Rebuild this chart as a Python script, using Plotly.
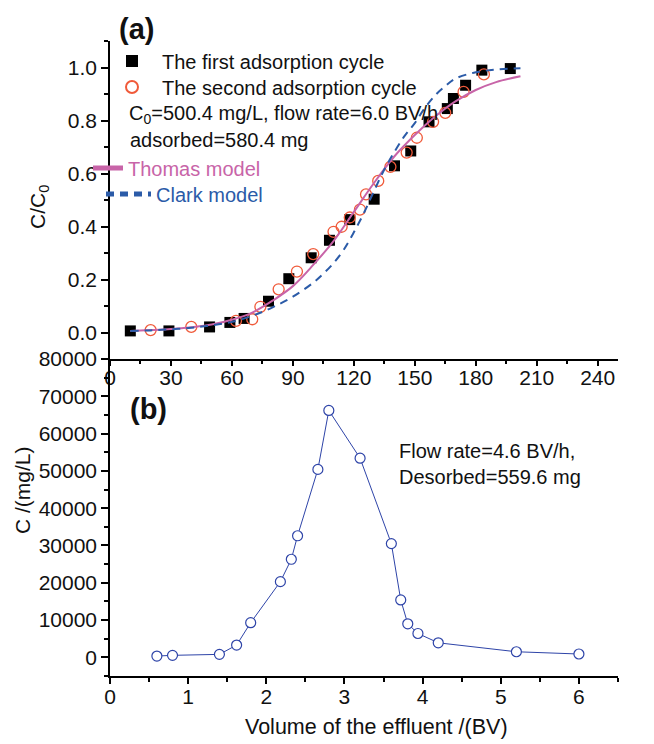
import plotly.graph_objects as go

# ---------------- data ----------------
cycle1_bv = [10, 29, 49, 59, 66, 78, 88, 99, 108, 118, 130, 140, 148, 157, 166, 169, 175, 183, 197]
cycle1_ratio = [0.006, 0.006, 0.021, 0.038, 0.053, 0.118, 0.203, 0.282, 0.348, 0.426, 0.503,
                0.629, 0.685, 0.795, 0.845, 0.883, 0.933, 0.990, 0.996]

cycle2_bv = [20, 40, 62, 70, 74, 83, 92, 100, 110, 114, 118, 123, 126, 132, 138, 146, 151, 159, 165, 174, 184]
cycle2_ratio = [0.009, 0.021, 0.044, 0.050, 0.097, 0.163, 0.230, 0.296, 0.380, 0.399, 0.434,
                0.464, 0.521, 0.572, 0.625, 0.679, 0.735, 0.795, 0.829, 0.908, 0.974]

thomas_bv = [10, 20, 30, 40, 50, 60, 70, 80, 90, 100, 110, 120, 130, 140, 150, 160, 170, 180, 190, 202]
thomas_ratio = [0.006, 0.009, 0.013, 0.020, 0.030, 0.048, 0.075, 0.120, 0.175, 0.255, 0.345,
                0.455, 0.565, 0.665, 0.745, 0.815, 0.872, 0.915, 0.945, 0.967]

clark_bv = [10, 20, 30, 40, 50, 60, 70, 80, 90, 100, 105, 110, 115, 120, 125, 130, 135, 140,
            145, 150, 155, 160, 165, 170, 180, 190, 202]
clark_ratio = [0.006, 0.008, 0.012, 0.018, 0.027, 0.040, 0.063, 0.095, 0.135, 0.188, 0.222,
               0.262, 0.312, 0.378, 0.452, 0.535, 0.615, 0.682, 0.742, 0.790, 0.848, 0.895,
               0.930, 0.958, 0.982, 0.992, 0.997]

desorb_bv = [0.6, 0.8, 1.4, 1.62, 1.8, 2.18, 2.32, 2.4, 2.66, 2.8, 3.2, 3.6, 3.72, 3.81, 3.94, 4.2, 5.2, 6.0]
desorb_conc = [350, 540, 800, 3300, 9300, 20300, 26300, 32600, 50400, 66200, 53400, 30500,
               15400, 9000, 6400, 3900, 1500, 900]

top_xticks = [0, 30, 60, 90, 120, 150, 180, 210, 240]
top_yticks = [0.0, 0.2, 0.4, 0.6, 0.8, 1.0]
bot_xticks = [0, 1, 2, 3, 4, 5, 6]
bot_yticks = [0, 10000, 20000, 30000, 40000, 50000, 60000, 70000, 80000]

# ---------------- styling ----------------
FONT = "Liberation Sans, Arial, sans-serif"
OFF = 8                      # page body margin in the browser
W, H = 654 - OFF, 744 - OFF  # figure size so the page fits the window
ML, MR, MT, MB = 110 - OFF, 36, 41 - OFF, 68
PW, PH = W - ML - MR, H - MT - MB
SPLIT = (744 - MB - 359) / PH  # shared boundary between panels (screen y = 359)


def px(x):  # screen pixel -> paper
    return (x - 110) / PW


def py(y):
    return (744 - MB - y) / PH


BLACK = "#000000"
RED = "#F05A3A"
PINK = "#C864A8"
BLUE = "#2B5BA8"
NAVY = "#2E44A8"
TXT = "#111111"

fig = go.Figure()

fig.add_trace(go.Scatter(
    x=cycle1_bv, y=cycle1_ratio, mode="markers", name="The first adsorption cycle",
    marker=dict(symbol="square", size=11, color=BLACK), xaxis="x", yaxis="y", legend="legend"))
fig.add_trace(go.Scatter(
    x=cycle2_bv, y=cycle2_ratio, mode="markers", name="The second adsorption cycle",
    marker=dict(symbol="circle-open", size=11, color=RED, line=dict(width=1.3, color=RED)),
    xaxis="x", yaxis="y", legend="legend4"))
fig.add_trace(go.Scatter(
    x=thomas_bv, y=thomas_ratio, mode="lines", name="Thomas model",
    line=dict(color=PINK, width=2, shape="spline"), xaxis="x", yaxis="y", legend="legend2"))
fig.add_trace(go.Scatter(
    x=clark_bv, y=clark_ratio, mode="lines", name="Clark model",
    line=dict(color=BLUE, width=2, dash="8px,6px", shape="spline"), xaxis="x", yaxis="y",
    legend="legend3"))
fig.add_trace(go.Scatter(
    x=desorb_bv, y=desorb_conc, mode="lines+markers", showlegend=False,
    line=dict(color=NAVY, width=1),
    marker=dict(symbol="circle", size=10, color="white", line=dict(width=1.2, color=NAVY)),
    xaxis="x2", yaxis="y2"))

axis_common = dict(
    showgrid=False, zeroline=False, showline=True, linecolor=BLACK, linewidth=1.5,
    ticks="outside", ticklen=7, tickwidth=1.5, tickcolor=BLACK,
    tickfont=dict(family=FONT, size=21, color=TXT),
)


def minor(d, ln=4):
    return dict(dtick=d, tick0=0, ticks="outside", ticklen=ln, tickwidth=1.5, tickcolor=BLACK)


def leg(x, y, color, iw=30):
    return dict(x=px(x), y=py(y), xanchor="left", yanchor="middle", bgcolor="rgba(0,0,0,0)",
                font=dict(family=FONT, size=20, color=color), itemwidth=iw, itemsizing="constant")


fig.update_layout(
    width=W, height=H,
    margin=dict(l=ML, r=MR, t=MT, b=MB, autoexpand=False),
    paper_bgcolor="white", plot_bgcolor="white",
    font=dict(family=FONT, size=20, color=TXT),
    xaxis=dict(axis_common, domain=[0, 1], range=[0, 250], anchor="y",
               tickvals=top_xticks, ticklen=5, ticklabelstandoff=-6, minor=minor(15, 3)),
    yaxis=dict(axis_common, domain=[SPLIT, 1], range=[-0.1, 1.1], anchor="x",
               tickvals=top_yticks, tickformat=".1f", minor=minor(0.1)),
    xaxis2=dict(axis_common, domain=[0, 1], range=[0, 6.5], anchor="y2",
                tickvals=bot_xticks, ticklen=6, ticklabelstandoff=-5, minor=minor(0.5)),
    yaxis2=dict(axis_common, domain=[0, SPLIT], range=[-5000, 80000], anchor="x2",
                tickvals=bot_yticks, tickformat="d", minor=minor(5000)),
    legend=leg(102, 61, TXT, 50),
    legend4=leg(102, 87, TXT, 50),
    legend2=leg(88, 168, PINK, 30),
    legend3=leg(101, 194, BLUE, 45),
)

annotations = [
    dict(text="<b>(a)</b>", x=px(117), y=py(29), xanchor="left", yanchor="middle", font=dict(size=29)),
    dict(text="<b>(b)</b>", x=px(128), y=py(409), xanchor="left", yanchor="middle", font=dict(size=29)),
    dict(text="C<sub>0</sub>=500.4 mg/L, flow rate=6.0 BV/h", x=px(127), y=py(115),
         xanchor="left", yanchor="middle", font=dict(size=20)),
    dict(text="adsorbed=580.4 mg", x=px(128), y=py(140), xanchor="left", yanchor="middle",
         font=dict(size=20)),
    dict(text="Flow rate=4.6 BV/h,", x=px(397), y=py(451), xanchor="left", yanchor="middle",
         font=dict(size=20)),
    dict(text="Desorbed=559.6 mg", x=px(397), y=py(477), xanchor="left", yanchor="middle",
         font=dict(size=20)),
    dict(text="C/C<sub>0</sub>", x=px(39), y=py(207), xanchor="center", yanchor="middle",
         textangle=-90, font=dict(size=21)),
    dict(text="C /(mg/L)", x=px(22), y=py(490), xanchor="center", yanchor="middle",
         textangle=-90, font=dict(size=21)),
    dict(text="Volume of the effluent /(BV)", x=px(376), y=py(727), xanchor="center",
         yanchor="middle", font=dict(size=21.5)),
]
for a in annotations:
    a.update(xref="paper", yref="paper", showarrow=False)
    a["font"] = dict(family=FONT, color=TXT, **a["font"])
fig.update_layout(annotations=annotations)

fig.write_html("out.html")
